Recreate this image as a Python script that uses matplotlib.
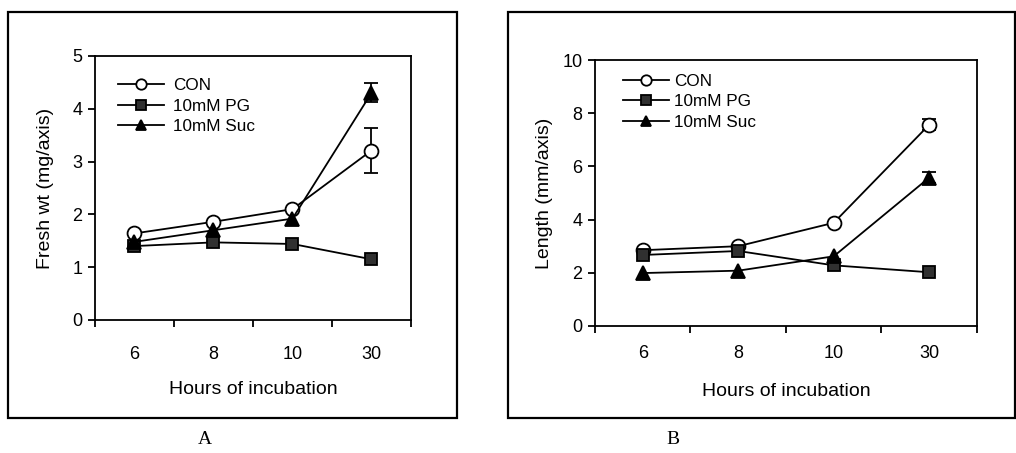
import numpy as np
import matplotlib
matplotlib.use("Agg")
import matplotlib.pyplot as plt
from matplotlib.patches import Rectangle

plt.rcParams['font.family'] = ['Liberation Sans', 'DejaVu Sans']

# data
hours = ['6', '8', '10', '30']
series_names = ['CON', '10mM PG', '10mM Suc']

fw_con = [1.64, 1.86, 2.10, 3.21]
fw_pg = [1.40, 1.47, 1.44, 1.15]
fw_suc = [1.48, 1.70, 1.92, 4.30]
fw_con_err = [0, 0, 0, 0.42]
fw_pg_err = [0, 0, 0, 0]
fw_suc_err = [0, 0, 0, 0.18]

len_con = [2.85, 3.00, 3.88, 7.57]
len_pg = [2.67, 2.82, 2.28, 2.02]
len_suc = [1.99, 2.08, 2.62, 5.58]
len_con_err = [0, 0, 0, 0.2]
len_pg_err = [0, 0, 0, 0]
len_suc_err = [0, 0, 0, 0.22]

styles = [
    dict(marker='o', mfc='white', mec='black', ms=10),
    dict(marker='s', mfc='#303030', mec='black', ms=9),
    dict(marker='^', mfc='black', mec='black', ms=10),
]


def draw_panel(ax, vals, errs, ymax, ystep, ylabel, leg_anchor, textpad,
               xpad, xlabpad, ylabpad):
    x = np.arange(len(hours)) + 0.5
    for v, e, name, st in zip(vals, errs, series_names, styles):
        v = np.array(v)
        e = np.array(e)
        ax.plot(x, v, color='black', lw=1.3, label=name, mew=1.3, zorder=3, **st)
        m = e > 0
        if m.any():
            ax.errorbar(x[m], v[m], yerr=e[m], fmt='none', ecolor='black',
                        elinewidth=1.3, capsize=5, capthick=1.3, zorder=2)
    ax.set_xlim(0, len(hours))
    ax.set_ylim(0, ymax)
    ax.set_xticks(np.arange(len(hours) + 1))
    ax.set_xticklabels([])
    ax.set_xticks(x, minor=True)
    ax.set_xticklabels(hours, minor=True)
    ax.set_yticks(np.arange(0, ymax + 0.1, ystep))
    ax.tick_params(axis='x', which='major', direction='out', length=5, width=1.3)
    ax.tick_params(axis='x', which='minor', length=0, pad=xpad, labelsize=13)
    ax.tick_params(axis='y', direction='out', length=5, width=1.3, labelsize=13, pad=4)
    for s in ax.spines.values():
        s.set_linewidth(1.3)
    ax.set_xlabel('Hours of incubation', fontsize=14, labelpad=xlabpad)
    ax.set_ylabel(ylabel, fontsize=14, labelpad=ylabpad)
    ax.legend(loc='upper left', bbox_to_anchor=leg_anchor, frameon=False,
              fontsize=12.3, handlelength=2.7, handletextpad=textpad,
              labelspacing=0.32, borderpad=0, borderaxespad=0, markerscale=0.75,
              numpoints=1)


fig = plt.figure(figsize=(10.16, 4.53), dpi=100)

ax1 = fig.add_axes([0.0935, 0.2936, 0.311, 0.5828])
draw_panel(ax1, [fw_con, fw_pg, fw_suc], [fw_con_err, fw_pg_err, fw_suc_err],
           5, 1, 'Fresh wt (mg/axis)', (0.073, 0.915), 0.5, 18.5, 13.5, 13.5)

ax2 = fig.add_axes([0.5856, 0.2804, 0.376, 0.587])
draw_panel(ax2, [len_con, len_pg, len_suc], [len_con_err, len_pg_err, len_suc_err],
           10, 2, 'Length (mm/axis)', (0.073, 0.948), 0.3, 14, 15, 6.5)

# outer boxes
fig.patches.append(Rectangle((8 / 1016, 1 - 418 / 453), 449 / 1016, 406 / 453,
                             transform=fig.transFigure, fill=False, lw=1.6, ec='black'))
fig.patches.append(Rectangle((508 / 1016, 1 - 418 / 453), 507 / 1016, 406 / 453,
                             transform=fig.transFigure, fill=False, lw=1.6, ec='black'))

fig.text(205 / 1016, 1 - 440 / 453, 'A', family='Liberation Serif', fontsize=14,
         ha='center', va='center')
fig.text(673 / 1016, 1 - 440 / 453, 'B', family='Liberation Serif', fontsize=14,
         ha='center', va='center')

fig.savefig('out.png', dpi=100)
